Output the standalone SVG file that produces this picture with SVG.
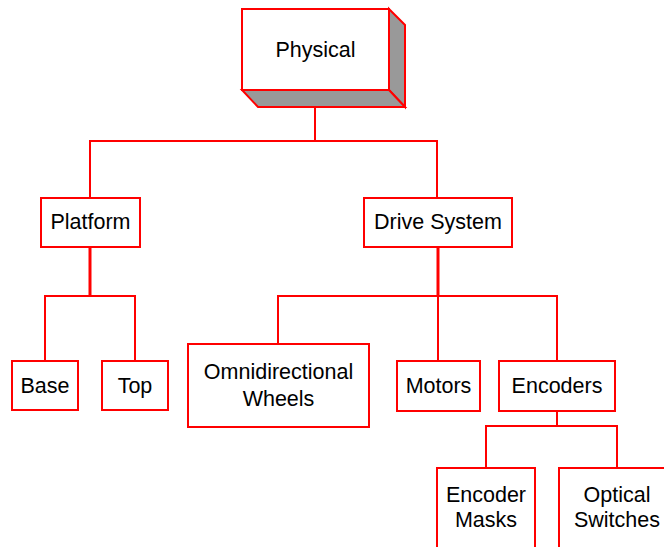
<svg xmlns="http://www.w3.org/2000/svg" width="664" height="547" viewBox="0 0 664 547">
<style>
.box{fill:#fff;stroke:#ff0000;stroke-width:2}
.side{fill:#999999;stroke:#ff0000;stroke-width:2;stroke-linejoin:miter}
.c{fill:none;stroke:#ff0000;stroke-width:2}
.s{fill:none;stroke:#ff0000;stroke-width:3}
text{font-family:"Liberation Sans",Arial,sans-serif;font-size:21.5px;fill:#000;text-anchor:middle}
</style>
<rect width="664" height="547" fill="#fff"/>
<g id="connectors">
<polyline class="c" points="315,91 315,141"/>
<polyline class="c" points="90,198 90,141 437,141 437,198"/>
<polyline class="s" points="90,247 90,296"/>
<polyline class="c" points="45,361 45,296 135,296 135,361"/>
<polyline class="s" points="438,247 438,296"/>
<polyline class="c" points="278,344 278,296 557,296 557,361"/>
<polyline class="c" points="438,296 438,361"/>
<polyline class="c" points="557,411 557,426"/>
<polyline class="c" points="486,468 486,426 617,426 617,468"/>
</g>
<g id="physical">
<polygon class="side" points="389,9 405,25 405,107 389,90"/>
<polygon class="side" points="242,90 389,90 405,107 258,107"/>
<rect class="box" x="242" y="9" width="147" height="81"/>
<text x="315.5" y="57">Physical</text>
</g>
<g id="platform">
<rect class="box" x="41" y="198" width="99" height="49"/>
<text x="90.5" y="229">Platform</text>
</g>
<g id="drive-system">
<rect class="box" x="364" y="198" width="148" height="49"/>
<text x="438" y="229">Drive System</text>
</g>
<g id="base">
<rect class="box" x="12" y="361" width="66" height="49"/>
<text x="45" y="393">Base</text>
</g>
<g id="top">
<rect class="box" x="102" y="361" width="66" height="49"/>
<text x="135" y="393">Top</text>
</g>
<g id="omni-wheels">
<rect class="box" x="188" y="344" width="181" height="83"/>
<text x="278.5" y="379">Omnidirectional</text>
<text x="278.5" y="406">Wheels</text>
</g>
<g id="motors">
<rect class="box" x="397" y="361" width="83" height="50"/>
<text x="438.5" y="393">Motors</text>
</g>
<g id="encoders">
<rect class="box" x="499" y="361" width="116" height="50"/>
<text x="557" y="393">Encoders</text>
</g>
<g id="encoder-masks">
<rect class="box" x="437" y="468" width="98" height="90"/>
<text x="486" y="502">Encoder</text>
<text x="486" y="527">Masks</text>
</g>
<g id="optical-switches">
<rect class="box" x="559" y="468" width="116" height="90"/>
<text x="617" y="502">Optical</text>
<text x="617" y="527">Switches</text>
</g>
</svg>
